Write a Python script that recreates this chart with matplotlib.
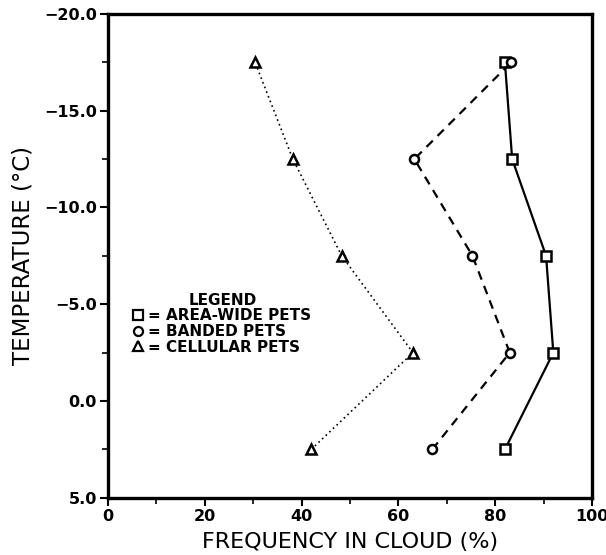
import matplotlib
matplotlib.use("Agg")
import matplotlib.pyplot as plt
from matplotlib.lines import Line2D
from matplotlib.ticker import MultipleLocator

temperature = [2.5, -2.5, -7.5, -12.5, -17.5]
area_wide = [82, 92, 90.5, 83.5, 82]
banded = [67, 83, 75.3, 63.3, 83.3]
cellular = [42, 63, 48.3, 38.2, 30.4]

x_ticks = [0, 20, 40, 60, 80, 100]
y_ticks = [5.0, 0.0, -5.0, -10.0, -15.0, -20.0]

plt.rcParams['font.family'] = ['DejaVu Sans']

fig = plt.figure(figsize=(6.06, 5.55), dpi=100)
ax = fig.add_axes([0.178, 0.103, 0.799, 0.872])

ms = 6.5
ax.plot(area_wide, temperature, color='black', lw=1.6, linestyle='-',
        marker='s', ms=ms, mfc='white', mec='black', mew=1.8)
ax.plot(banded, temperature, color='black', lw=1.6, linestyle=(0, (4, 3)),
        marker='o', ms=ms, mfc='white', mec='black', mew=1.8)
ax.plot(cellular, temperature, color='black', lw=1.2, linestyle=(0, (1, 2)),
        marker='^', ms=ms, mfc='white', mec='black', mew=1.8)

ax.set_xlim(0, 100)
ax.set_ylim(5.0, -20.0)
ax.set_xticks(x_ticks)
ax.set_xticklabels([str(v) for v in x_ticks])
ax.set_yticks(y_ticks)
ax.set_yticklabels([f"{v:.1f}".replace("-", "\u2212") for v in y_ticks])
ax.xaxis.set_minor_locator(MultipleLocator(10))
ax.yaxis.set_minor_locator(MultipleLocator(2.5))

for s in ax.spines.values():
    s.set_linewidth(2.4)

ax.tick_params(axis='both', which='major', direction='out', length=6, width=1.5,
               labelsize=11.5, pad=2)
ax.tick_params(axis='both', which='minor', direction='out', length=4, width=1.2)
for lab in ax.get_xticklabels() + ax.get_yticklabels():
    lab.set_fontweight('bold')

ax.set_xlabel("FREQUENCY IN CLOUD (%)", fontsize=16, labelpad=6)
ax.set_ylabel("TEMPERATURE (°C)", fontsize=16.5)
ax.yaxis.set_label_coords(-0.151, 0.5)

handles = [
    Line2D([], [], linestyle='none', marker='s', ms=6.5, mfc='white', mec='black', mew=1.6),
    Line2D([], [], linestyle='none', marker='o', ms=6.5, mfc='white', mec='black', mew=1.6),
    Line2D([], [], linestyle='none', marker='^', ms=6.5, mfc='white', mec='black', mew=1.6),
]
labels = ["= AREA-WIDE PETS", "= BANDED PETS", "= CELLULAR PETS"]
leg = ax.legend(handles, labels, title="LEGEND", frameon=False,
                loc='upper left', bbox_to_anchor=(0.038, 0.44),
                handlelength=0.6, handletextpad=0.3, labelspacing=0.05,
                borderpad=0, fontsize=11, title_fontsize=11)
for t in leg.get_texts():
    t.set_fontweight('bold')
leg.get_title().set_fontweight('bold')

fig.savefig("out.png", dpi=100)
